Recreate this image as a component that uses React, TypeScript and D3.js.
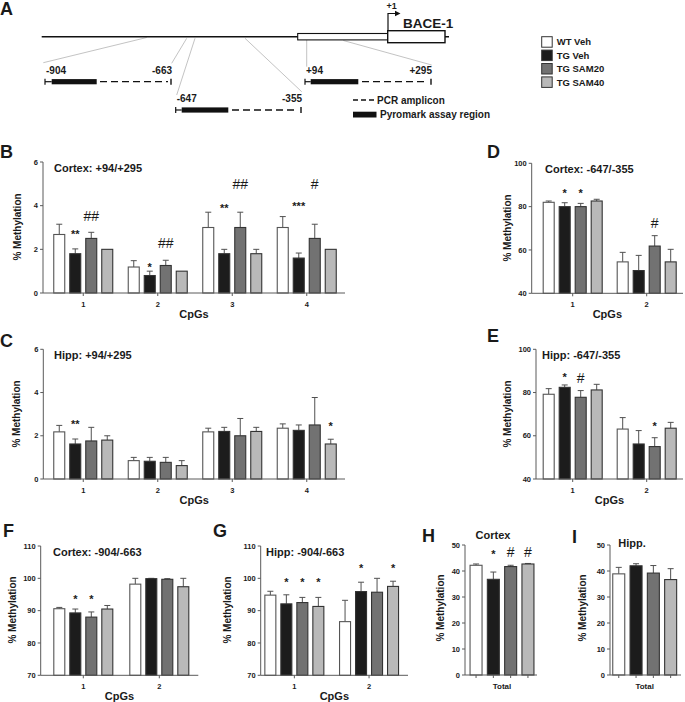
import React from 'react';
import * as d3 from 'd3';

// ---------------- DATA ----------------
const groups = ['WT Veh', 'TG Veh', 'TG SAM20', 'TG SAM40'];
const groupColors = ['#ffffff', '#1c1c1c', '#727272', '#b9b9b9'];

const cpgs4 = ['1', '2', '3', '4'];
const cpgs2 = ['1', '2'];
const totalCat = ['Total'];
const yTicks6 = [0, 2, 4, 6];
const yTicks100 = [40, 60, 80, 100];
const yTicks110 = [70, 80, 90, 100, 110];
const yTicks50 = [0, 10, 20, 30, 40, 50];

// means[cat][group], errs[cat][group]
const cortexP94Mean = [[2.68, 1.8, 2.5, 2.0], [1.19, 0.8, 1.26, 1.0], [3.0, 1.8, 3.0, 1.8], [3.0, 1.6, 2.5, 2.0]];
const cortexP94Err = [[0.47, 0.22, 0.28, 0], [0.29, 0.2, 0.24, 0], [0.7, 0.2, 0.7, 0.2], [0.5, 0.23, 0.65, 0]];
const hippP94Mean = [[2.18, 1.62, 1.76, 1.8], [0.85, 0.82, 0.77, 0.62], [2.18, 2.2, 2.0, 2.2], [2.35, 2.25, 2.5, 1.62]];
const hippP94Err = [[0.3, 0.23, 0.63, 0.2], [0.15, 0.18, 0.23, 0.23], [0.17, 0.19, 0.8, 0.19], [0.2, 0.25, 1.27, 0.22]];
const cortexM647Mean = [[82, 80, 80, 82.6], [54.5, 50.5, 61.8, 54.5]];
const cortexM647Err = [[0.6, 1.8, 1.5, 0.8], [4.4, 7.0, 4.8, 5.8]];
const hippM647Mean = [[79.2, 82.4, 77.8, 81.2], [63.1, 56.2, 55.0, 63.5]];
const hippM647Err = [[2.6, 1.1, 3.1, 2.6], [5.3, 6.2, 4.1, 2.7]];
const cortexM904Mean = [[90.6, 89.3, 88.0, 90.5], [98.2, 99.9, 99.7, 97.4]];
const cortexM904Err = [[0.4, 1.2, 1.6, 1.1], [1.8, 0.1, 0.2, 2.6]];
const hippM904Mean = [[94.8, 92.1, 92.5, 91.3], [86.6, 95.9, 95.7, 97.5]];
const hippM904Err = [[1.2, 2.8, 1.6, 2.8], [6.6, 2.9, 4.3, 1.6]];
const cortexTotalMean = [[42.2, 36.8, 41.7, 42.7]];
const cortexTotalErr = [[0.5, 2.8, 0.5, 0.2]];
const hippTotalMean = [[38.9, 42.0, 39.2, 36.7]];
const hippTotalErr = [[2.5, 0.8, 2.9, 4.2]];

type Ann = { cat: number; g: number; text: string; y: number };
const annB: Ann[] = [
  { cat: 0, g: 1, text: '**', y: 2.8 }, { cat: 0, g: 2, text: '##', y: 3.5 },
  { cat: 1, g: 1, text: '*', y: 1.3 }, { cat: 1, g: 2, text: '##', y: 2.27 },
  { cat: 2, g: 1, text: '**', y: 4.03 }, { cat: 2, g: 2, text: '##', y: 5.0 },
  { cat: 3, g: 1, text: '***', y: 4.1 }, { cat: 3, g: 2, text: '#', y: 5.0 },
];
const annC: Ann[] = [{ cat: 0, g: 1, text: '**', y: 2.65 }, { cat: 3, g: 3, text: '*', y: 2.57 }];
const annD: Ann[] = [{ cat: 0, g: 1, text: '*', y: 87.7 }, { cat: 0, g: 2, text: '*', y: 87.7 }, { cat: 1, g: 2, text: '#', y: 72.3 }];
const annE: Ann[] = [{ cat: 0, g: 1, text: '*', y: 88.3 }, { cat: 0, g: 2, text: '#', y: 86.5 }, { cat: 1, g: 2, text: '*', y: 65.7 }];
const annF: Ann[] = [{ cat: 0, g: 1, text: '*', y: 94.3 }, { cat: 0, g: 2, text: '*', y: 94.3 }];
const annG: Ann[] = [
  { cat: 0, g: 1, text: '*', y: 99.7 }, { cat: 0, g: 2, text: '*', y: 99.7 }, { cat: 0, g: 3, text: '*', y: 99.7 },
  { cat: 1, g: 1, text: '*', y: 104.1 }, { cat: 1, g: 3, text: '*', y: 104.1 },
];
const annH: Ann[] = [{ cat: 0, g: 1, text: '*', y: 47.4 }, { cat: 0, g: 2, text: '#', y: 47.4 }, { cat: 0, g: 3, text: '#', y: 47.4 }];
const annI: Ann[] = [];

const ampliconLabels = [['-904', '-663'], ['-647', '-355'], ['+94', '+295']];

// ---------------- STYLE ----------------
const FONT = 'Liberation Sans, Arial, Helvetica, sans-serif';
const AXIS = '#5a5a5a';
const TXT = '#1a1a1a';

type PanelCfg = {
  letter: string; lx: number; ly: number;
  title: string; tx: number; ty: number; tAnchor: 'start' | 'middle';
  cats: string[]; means: number[][]; errs: number[][]; ann: Ann[];
  domain: [number, number]; ticks: number[];
  ax: number; axEnd: number; yTop: number; yBot: number;
  band: [number, number]; barW: number; barStep: number;
  ylx: number; yly: number; xTitle: string | null; perBarTicks: boolean;
};

function BarPanel({ c }: { c: PanelCfg }) {
  const y = d3.scaleLinear().domain(c.domain).range([c.yBot, c.yTop]);
  const x = d3.scaleBand<string>().domain(c.cats).range(c.band).padding(0);
  const center = (ci: number) => (x(c.cats[ci]) as number) + x.bandwidth() / 2;
  const barX = (ci: number, g: number) => center(ci) + (g - 1.5) * c.barStep;
  const bars: JSX.Element[] = [];
  c.means.forEach((row, ci) => {
    row.forEach((v, g) => {
      const bx = barX(ci, g);
      const top = y(v);
      const e = c.errs[ci][g];
      if (e > 0) {
        const et = y(v + e);
        bars.push(
          <g key={`e${ci}-${g}`} stroke="#505050" strokeWidth={1}>
            <line x1={bx} x2={bx} y1={top} y2={et} />
            <line x1={bx - 3} x2={bx + 3} y1={et} y2={et} />
          </g>
        );
      }
      bars.push(
        <rect key={`b${ci}-${g}`} x={bx - c.barW / 2} y={top} width={c.barW} height={c.yBot - top}
          fill={groupColors[g]} stroke={g === 0 ? '#555' : '#333'} strokeWidth={1.1} />
      );
    });
  });
  const xTickPos: number[] = [];
  c.cats.forEach((_, ci) => {
    if (c.perBarTicks) groups.forEach((_, g) => xTickPos.push(barX(ci, g)));
    else xTickPos.push(center(ci));
  });
  return (
    <g fontFamily={FONT}>
      <text x={c.lx} y={c.ly} fontSize={18} fontWeight="bold" fill={TXT}>{c.letter}</text>
      <text x={c.tx} y={c.ty} fontSize={11} fontWeight="bold" fill={TXT} textAnchor={c.tAnchor}>{c.title}</text>
      <text transform={`translate(${c.ylx},${c.yly}) rotate(-90)`} fontSize={10} fontWeight="bold" fill={TXT}
        textAnchor="middle" dominantBaseline="middle">% Methylation</text>
      {bars}
      {/* y axis */}
      <line x1={c.ax} x2={c.ax} y1={c.yTop} y2={c.yBot} stroke={AXIS} strokeWidth={1} />
      {c.ticks.map(t => (
        <g key={`yt${t}`}>
          <line x1={c.ax - 3} x2={c.ax} y1={y(t)} y2={y(t)} stroke={AXIS} strokeWidth={1} />
          <text x={c.ax - 5} y={y(t)} dy="0.35em" fontSize={7.5} fontWeight="bold" textAnchor="end" fill={TXT}>{t}</text>
        </g>
      ))}
      {/* x axis */}
      <line x1={c.ax} x2={c.axEnd} y1={c.yBot} y2={c.yBot} stroke={AXIS} strokeWidth={1} />
      {xTickPos.map((p, i) => (
        <line key={`xt${i}`} x1={p} x2={p} y1={c.yBot} y2={c.yBot + 3} stroke={AXIS} strokeWidth={1} />
      ))}
      {c.cats.map((cat, ci) => (
        <text key={`xl${cat}`} x={center(ci)} y={c.yBot + 14} fontSize={c.perBarTicks ? 8 : 7.5} fontWeight="bold" textAnchor="middle" fill={TXT}>{cat}</text>
      ))}
      {c.xTitle && (
        <text x={(c.ax + c.axEnd) / 2} y={c.yBot + 25} fontSize={11} fontWeight="bold" textAnchor="middle" fill={TXT}>{c.xTitle}</text>
      )}
      {c.ann.map((a, i) => {
        const isHash = a.text.includes('#');
        const fs = isHash ? 14 : 11;
        const base = y(a.y) + (isHash ? fs * 0.35 : fs * 0.6);
        return (
          <text key={`a${i}`} x={barX(a.cat, a.g)} y={base} fontSize={fs} fontWeight={isHash ? 'normal' : 'bold'}
            textAnchor="middle" fill={TXT}>{a.text}</text>
        );
      })}
    </g>
  );
}

const panels: PanelCfg[] = [
  { letter: 'B', lx: 0, ly: 158, title: 'Cortex: +94/+295', tx: 54, ty: 172, tAnchor: 'start',
    cats: cpgs4, means: cortexP94Mean, errs: cortexP94Err, ann: annB, domain: [0, 6], ticks: yTicks6,
    ax: 43, axEnd: 345, yTop: 162, yBot: 293, band: [46, 344], barW: 11, barStep: 16,
    ylx: 18, yly: 227, xTitle: 'CpGs', perBarTicks: false },
  { letter: 'C', lx: 0, ly: 347, title: 'Hipp: +94/+295', tx: 54, ty: 359, tAnchor: 'start',
    cats: cpgs4, means: hippP94Mean, errs: hippP94Err, ann: annC, domain: [0, 6], ticks: yTicks6,
    ax: 43.3, axEnd: 345, yTop: 349.3, yBot: 479, band: [46, 344], barW: 11, barStep: 16,
    ylx: 17.5, yly: 414, xTitle: 'CpGs', perBarTicks: false },
  { letter: 'D', lx: 487, ly: 158, title: 'Cortex: -647/-355', tx: 545, ty: 173, tAnchor: 'start',
    cats: cpgs2, means: cortexM647Mean, errs: cortexM647Err, ann: annD, domain: [40, 100], ticks: yTicks100,
    ax: 531.7, axEnd: 683, yTop: 163.3, yBot: 293.3, band: [535.7, 683.7], barW: 11, barStep: 16,
    ylx: 508, yly: 228, xTitle: 'CpGs', perBarTicks: false },
  { letter: 'E', lx: 487, ly: 342, title: 'Hipp: -647/-355', tx: 542, ty: 359, tAnchor: 'start',
    cats: cpgs2, means: hippM647Mean, errs: hippM647Err, ann: annE, domain: [40, 100], ticks: yTicks100,
    ax: 536, axEnd: 683, yTop: 349.3, yBot: 479, band: [535.7, 683.7], barW: 11, barStep: 16,
    ylx: 508, yly: 414, xTitle: 'CpGs', perBarTicks: false },
  { letter: 'F', lx: 3, ly: 537, title: 'Cortex: -904/-663', tx: 53, ty: 556, tAnchor: 'start',
    cats: cpgs2, means: cortexM904Mean, errs: cortexM904Err, ann: annF, domain: [70, 110], ticks: yTicks110,
    ax: 40.7, axEnd: 198.3, yTop: 546, yBot: 675.3, band: [45.3, 197.3], barW: 11, barStep: 16,
    ylx: 13.5, yly: 610, xTitle: 'CpGs', perBarTicks: false },
  { letter: 'G', lx: 213, ly: 537, title: 'Hipp: -904/-663', tx: 266, ty: 556, tAnchor: 'start',
    cats: cpgs2, means: hippM904Mean, errs: hippM904Err, ann: annG, domain: [70, 110], ticks: yTicks110,
    ax: 260.7, axEnd: 408, yTop: 546, yBot: 675.3, band: [257, 406.4], barW: 11, barStep: 16,
    ylx: 228, yly: 610, xTitle: 'CpGs', perBarTicks: false },
  { letter: 'H', lx: 422, ly: 542, title: 'Cortex', tx: 493, ty: 539, tAnchor: 'middle',
    cats: totalCat, means: cortexTotalMean, errs: cortexTotalErr, ann: annH, domain: [0, 50], ticks: yTicks50,
    ax: 465, axEnd: 537, yTop: 545, yBot: 675, band: [467, 537], barW: 12, barStep: 17.3,
    ylx: 441, yly: 608, xTitle: null, perBarTicks: true },
  { letter: 'I', lx: 572, ly: 543, title: 'Hipp.', tx: 632, ty: 547, tAnchor: 'middle',
    cats: totalCat, means: hippTotalMean, errs: hippTotalErr, ann: annI, domain: [0, 50], ticks: yTicks50,
    ax: 610, axEnd: 681, yTop: 545, yBot: 675, band: [609.7, 679.7], barW: 12, barStep: 17.3,
    ylx: 583, yly: 608, xTitle: null, perBarTicks: true },
];

// ---------------- PANEL A (schematic) ----------------
function PanelA() {
  const lineY = 36.7;
  const amps = [
    { capL: 45, thick: [51.7, 96.7], dash: [100, 168], capR: 171, y: 81.7, ly: 73.5 },
    { capL: 175.7, thick: [181.7, 228.3], dash: [232, 298], capR: 301, y: 110, ly: 101.5 },
    { capL: 305, thick: [310.7, 358.3], dash: [362, 428], capR: 431, y: 81.7, ly: 73.5 },
  ];
  const guides = [
    [146.7, 37.5, 43.3, 62.7], [186.7, 38.3, 171.7, 63.3], [195, 38.3, 176.7, 95],
    [245, 38.3, 301.7, 91.7], [306.7, 40, 306.7, 66.7], [343.3, 40.5, 431.7, 65],
  ];
  return (
    <g fontFamily={FONT}>
      <text x={0} y={15} fontSize={18} fontWeight="bold" fill={TXT}>A</text>
      {guides.map((g, i) => (
        <line key={`gd${i}`} x1={g[0]} y1={g[1]} x2={g[2]} y2={g[3]} stroke="#9a9a9a" strokeWidth={0.6} />
      ))}
      <line x1={41.7} x2={449} y1={lineY} y2={lineY} stroke="#111" strokeWidth={1.6} />
      <rect x={297.7} y={33.5} width={90} height={6.4} fill="#fff" stroke="#111" strokeWidth={1.1} />
      <rect x={387.7} y={30.7} width={57.3} height={12} fill="#fff" stroke="#111" strokeWidth={1.4} />
      <path d="M388,30.7 V13.5 H396" fill="none" stroke="#111" strokeWidth={1.2} />
      <path d="M395,10.8 L400.5,13.5 L395,16.2 Z" fill="#111" />
      <text x={386.5} y={8.5} fontSize={9} fontWeight="bold" fill={TXT}>+1</text>
      <text x={403} y={28} fontSize={13.5} fontWeight="bold" fill={TXT}>BACE-1</text>
      {amps.map((a, i) => (
        <g key={`amp${i}`}>
          <line x1={a.capL} x2={a.capL} y1={a.y - 3} y2={a.y + 3} stroke="#111" strokeWidth={1.2} />
          <line x1={a.capL} x2={a.thick[0]} y1={a.y} y2={a.y} stroke="#111" strokeWidth={1.2} />
          <rect x={a.thick[0]} y={a.y - 2.6} width={a.thick[1] - a.thick[0]} height={5.2} fill="#111" />
          <line x1={a.dash[0]} x2={a.dash[1]} y1={a.y} y2={a.y} stroke="#111" strokeWidth={1.3} strokeDasharray="7,4" />
          <line x1={a.capR} x2={a.capR} y1={a.y - 3} y2={a.y + 3} stroke="#111" strokeWidth={1.4} />
          <text x={a.capL + 1} y={a.ly} fontSize={10} fontWeight="bold" fill={TXT}>{ampliconLabels[i][0]}</text>
          <text x={a.capR + 1} y={a.ly} fontSize={10} fontWeight="bold" fill={TXT} textAnchor="end">{ampliconLabels[i][1]}</text>
        </g>
      ))}
      <line x1={353} x2={374} y1={100} y2={100} stroke="#111" strokeWidth={1.3} strokeDasharray="5,3" />
      <text x={377} y={103.5} fontSize={10} fontWeight="bold" fill={TXT}>PCR amplicon</text>
      <rect x={353} y={111.7} width={23.5} height={5.8} fill="#111" />
      <text x={380} y={118.3} fontSize={10} fontWeight="bold" fill={TXT}>Pyromark assay region</text>
    </g>
  );
}

function Legend() {
  const x0 = 541.7, y0 = 36.7, step = 13.4, sz = 10.5;
  return (
    <g fontFamily={FONT}>
      {groups.map((g, i) => (
        <g key={g}>
          <rect x={x0} y={y0 + i * step} width={sz} height={sz} fill={groupColors[i]} stroke="#333" strokeWidth={1} />
          <text x={x0 + 15} y={y0 + i * step + sz / 2} dy="0.36em" fontSize={9.5} fontWeight="bold" fill={TXT}>{g}</text>
        </g>
      ))}
    </g>
  );
}

export default function App() {
  return (
    <svg width={685} height={702} viewBox="0 0 685 702"
      style={{ position: 'absolute', left: 0, top: 0, background: '#fff' }}>
      <rect width={685} height={702} fill="#fff" />
      <PanelA />
      <Legend />
      {panels.map(p => <BarPanel key={p.letter} c={p} />)}
    </svg>
  );
}
